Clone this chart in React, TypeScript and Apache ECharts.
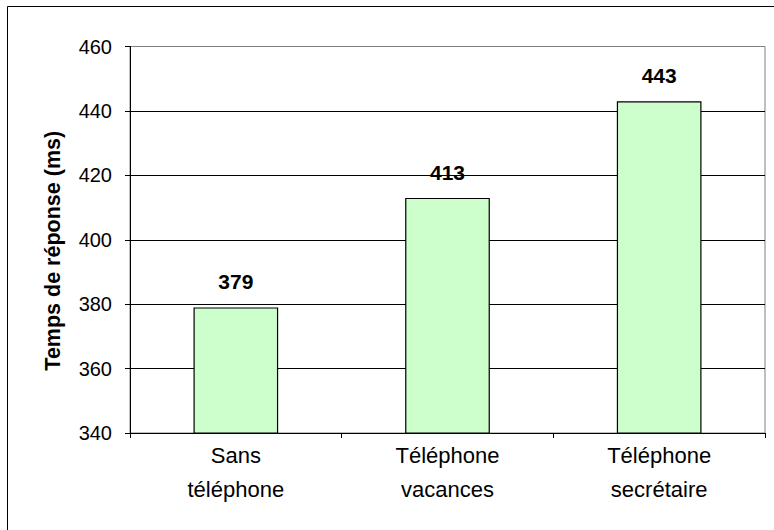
import React, { useEffect, useRef } from "react";
import * as echarts from "echarts";

const categories = ["Sans\ntéléphone", "Téléphone\nvacances", "Téléphone\nsecrétaire"];
const values = [379, 413, 443];
const yAxisName = "Temps de réponse (ms)";

export default function App() {
  const ref = useRef<HTMLDivElement>(null);
  useEffect(() => {
    document.body.style.margin = "0";
    const chart = echarts.init(ref.current!, null, { renderer: "svg" });
    const font = "'Liberation Sans', Arial, sans-serif";
    chart.setOption({
      animation: false,
      backgroundColor: "#ffffff",
      textStyle: { fontFamily: font },
      graphic: [
        {
          type: "rect",
          shape: { x: 7.5, y: 6.5, width: 800, height: 600 },
          style: { fill: "none", stroke: "#000", lineWidth: 1 },
          silent: true,
        },
      ],
      grid: {
        left: 130,
        top: 46.5,
        right: 9,
        bottom: 97,
        show: true,
        borderColor: "#808080",
        borderWidth: 1,
      },
      xAxis: {
        type: "category",
        data: categories,
        boundaryGap: true,
        axisLine: { lineStyle: { color: "#000", width: 1 } },
        axisTick: { show: true, alignWithLabel: false, length: 5, inside: false, lineStyle: { color: "#000" } },
        axisLabel: {
          color: "#000",
          fontSize: 22,
          fontFamily: font,
          lineHeight: 34,
          margin: 5,
          interval: 0,
        },
      },
      yAxis: {
        type: "value",
        min: 340,
        max: 460,
        interval: 20,
        name: yAxisName,
        nameLocation: "middle",
        nameRotate: 90,
        nameGap: 66,
        nameTextStyle: {
          color: "#000",
          fontSize: 21.5,
          fontWeight: "bold",
          fontFamily: font,
          padding: [0, 22, 0, 0],
        },
        axisLine: { show: true, lineStyle: { color: "#000", width: 1 } },
        axisTick: { show: true, length: 5, inside: false, lineStyle: { color: "#000" } },
        axisLabel: { color: "#000", fontSize: 20, fontFamily: font, margin: 18 },
        splitLine: {
          show: true,
          lineStyle: { color: ["#000", "#000", "#000", "#000", "#000", "#000", "#808080"], width: 1 },
        },
      },
      series: [
        {
          type: "bar",
          data: values,
          barWidth: "40%",
          itemStyle: { color: "#CCFFCC", borderColor: "#000", borderWidth: 1.2 },
          label: {
            show: true,
            position: "top",
            distance: 15,
            color: "#000",
            fontSize: 21,
            fontWeight: "bold",
            fontFamily: font,
          },
        },
      ],
    });
    return () => chart.dispose();
  }, []);
  return <div ref={ref} style={{ width: 774, height: 530 }} />;
}
